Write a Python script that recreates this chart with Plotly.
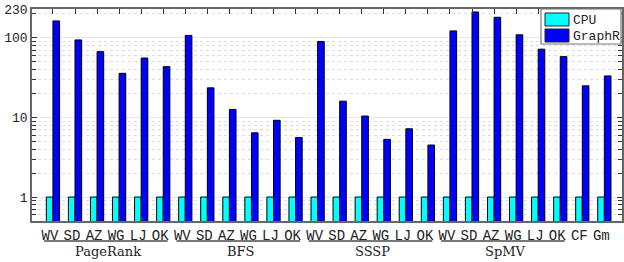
import plotly.graph_objects as go
import numpy as np

categories = ["WV", "SD", "AZ", "WG", "LJ", "OK",
              "WV", "SD", "AZ", "WG", "LJ", "OK",
              "WV", "SD", "AZ", "WG", "LJ", "OK",
              "WV", "SD", "AZ", "WG", "LJ", "OK",
              "CF", "Gm"]
cpu_values = [1] * 26
graphr_values = [163, 94, 67, 35.8, 55.7, 43.4,
                 107, 23.5, 12.6, 6.4, 9.2, 5.6,
                 90, 16, 10.4, 5.3, 7.2, 4.5,
                 122, 211, 181, 109, 72, 58,
                 24.9, 33.2]
groups = [("PageRank", 0, 5), ("BFS", 6, 11), ("SSSP", 12, 17), ("SpMV", 18, 23)]
y_tickvals = [1, 10, 100, 230]
y_ticktext = ["1", "10", "100", "230"]

xs = list(range(len(categories)))
MONO = "Liberation Mono, DejaVu Sans Mono, monospace"
SERIF = "DejaVu Serif, Liberation Serif, serif"

fig = go.Figure()
fig.add_trace(go.Bar(x=xs, y=cpu_values, name="CPU", marker=dict(color="#00FFFF", line=dict(color="black", width=1))))
fig.add_trace(go.Bar(x=xs, y=graphr_values, name="GraphR", marker=dict(color="#0000FF", line=dict(color="black", width=1))))

fig.update_layout(
    width=624, height=262,
    margin=dict(l=32, r=2, t=9, b=41, autoexpand=False),
    barmode="group", bargap=0.4, bargroupgap=0,
    plot_bgcolor="white", paper_bgcolor="white",
    showlegend=False,
    font=dict(family=MONO, size=13, color="#222"),
)
fig.update_xaxes(
    range=[-0.95, 25.8], tickmode="array", tickvals=xs, ticktext=categories,
    ticks="inside", ticklen=5, tickcolor="#333", mirror="ticks",
    showline=True, linecolor="#666", linewidth=1.5, showgrid=False,
    tickfont=dict(family=MONO, size=14, color="#222"), ticklabelshift=-3,
    automargin=False,
)
fig.update_yaxes(
    type="log", range=[np.log10(0.5), np.log10(230)],
    tickmode="array", tickvals=y_tickvals, ticktext=y_ticktext,
    ticks="inside", ticklen=5, tickcolor="#333", mirror="ticks",
    showline=True, linecolor="#666", linewidth=1.5,
    showgrid=True, gridcolor="#e6e6e6", gridwidth=1,
    tickfont=dict(family=MONO, size=13, color="#222"),
    minor=dict(ticks="inside", ticklen=4, tickcolor="#333", dtick="D1",
               showgrid=True, gridcolor="#dcdcdc", griddash="dot", gridwidth=1),
    zeroline=False, automargin=False,
)

def py(p):
    return (221 - p) / 212

for name, a, b in groups:
    fig.add_shape(type="line", xref="x", yref="paper", x0=a - 0.4, x1=b + 0.2,
                  y0=py(241), y1=py(241), line=dict(color="#777", width=2))
    fig.add_annotation(x=(a + b) / 2, y=py(251), xref="x", yref="paper", text=name,
                       showarrow=False, font=dict(family=SERIF, size=13, color="#222"),
                       xanchor="center", yanchor="middle")

# legend box
def pxx(p):
    return (p - 32) / 590

fig.add_shape(type="rect", xref="paper", yref="paper", x0=pxx(541), x1=pxx(621), y0=py(44), y1=py(9),
              fillcolor="white", line=dict(color="#777", width=1.2), layer="above")
for i, (nm, col) in enumerate([("CPU", "#00FFFF"), ("GraphR", "#0000FF")]):
    top = 13 + i * 16
    fig.add_shape(type="rect", xref="paper", yref="paper", x0=pxx(545), x1=pxx(569),
                  y0=py(top + 13), y1=py(top), fillcolor=col, line=dict(color="#222", width=1), layer="above")
    fig.add_annotation(x=pxx(571), y=py(top + 7), xref="paper", yref="paper", text=nm, showarrow=False,
                       xanchor="left", yanchor="middle", font=dict(family=MONO, size=13, color="#222"))

fig.write_html("out.html", config={"displayModeBar": False},
               post_script="document.body.style.margin='0';document.body.style.padding='0';")
